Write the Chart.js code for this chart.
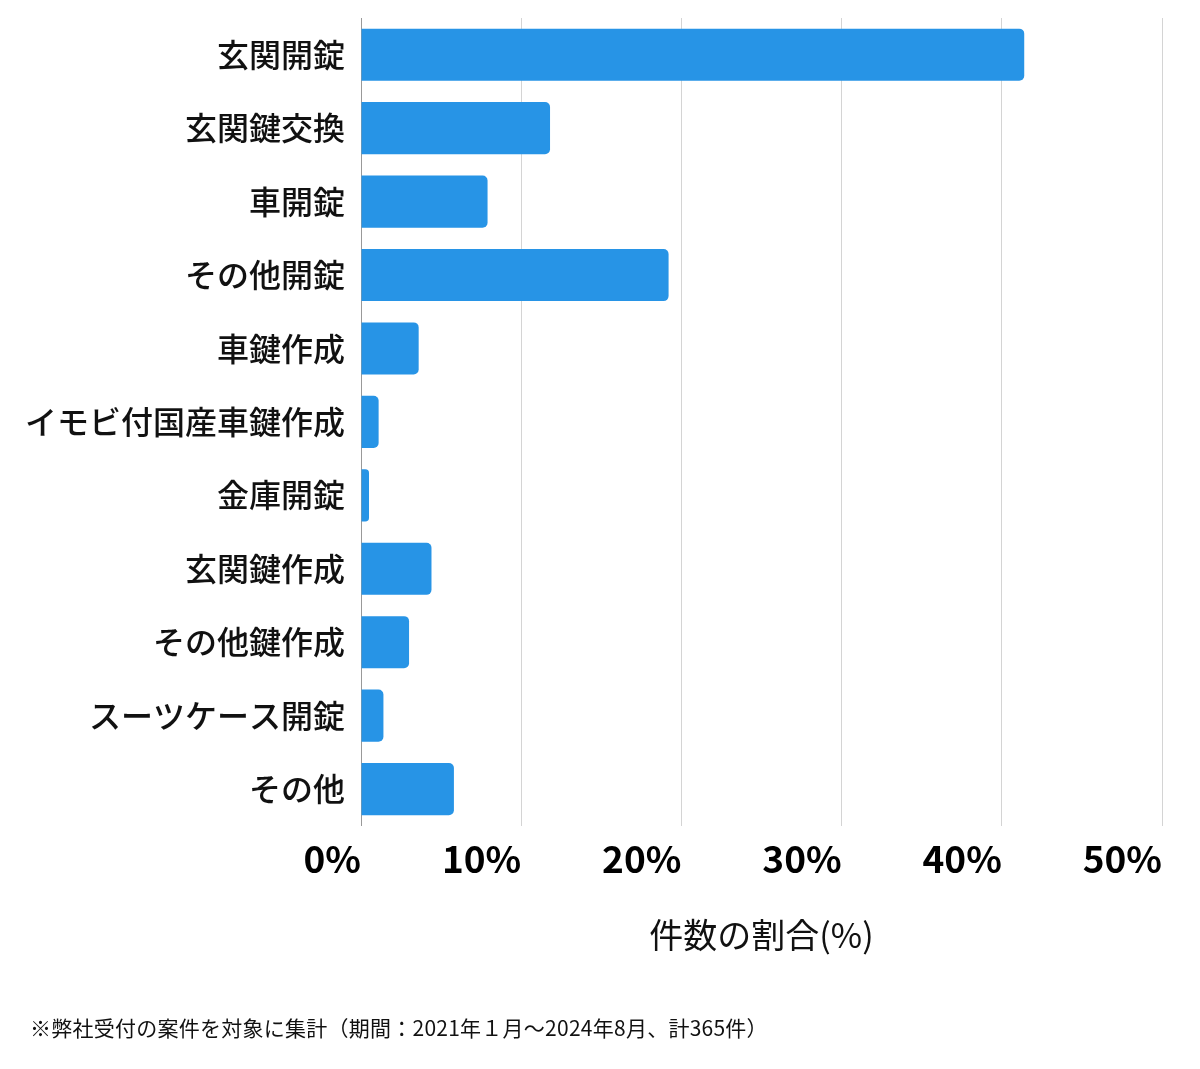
<!DOCTYPE html>
<html lang="ja">
<head>
<meta charset="utf-8">
<script src="https://cdn.jsdelivr.net/npm/chart.js@4"></script>
<style>
  html, body { margin: 0; padding: 0; background: #fff; }
  .wrap { position: relative; width: 1200px; height: 1069px; }
  .note {
    position: absolute; left: 30px; top: 1012px;
    font-family: "Noto Sans CJK JP", sans-serif; font-size: 21px; color: #111;
    letter-spacing: 0.25px; white-space: nowrap;
  }
</style>
</head>
<body>
<div class="wrap">
  <canvas id="chartBar" width="1200" height="1069"></canvas>
  <div class="note">※弊社受付の案件を対象に集計（期間：2021年１月〜2024年8月、計365件）</div>
</div>
<script>
const labels = ['玄関開錠', '玄関鍵交換', '車開錠', 'その他開錠', '車鍵作成', 'イモビ付国産車鍵作成',
  '金庫開錠', '玄関鍵作成', 'その他鍵作成', 'スーツケース開錠', 'その他']
// 件数の割合 (%)
const shares = [41.4, 11.8, 7.9, 19.2, 3.6, 1.1, 0.5, 4.4, 3.0, 1.4, 5.8]
const xTicks = [0, 10, 20, 30, 40, 50]

const font = '"Noto Sans CJK JP", "Noto Sans", sans-serif'

const ctx = document.getElementById('chartBar').getContext('2d')
new Chart(ctx, {
  type: 'bar',
  data: {
    labels: labels,
    datasets: [{
      label: '件数の割合',
      data: shares,
      backgroundColor: '#2794E6',
      borderRadius: 5,
      barPercentage: 0.71,
      categoryPercentage: 1
    }]
  },
  options: {
    indexAxis: 'y',
    responsive: false,
    animation: false,
    layout: {
      padding: { top: 18, right: 38, bottom: 114, left: 0 }
    },
    plugins: {
      legend: { display: false },
      tooltip: { enabled: false }
    },
    scales: {
      x: {
        min: 0,
        max: 50,
        afterBuildTicks: (scale) => {
          scale.ticks = xTicks.map(v => ({ value: v }))
        },
        grid: { color: '#d4d4d4', drawTicks: false },
        border: { display: false },
        ticks: {
          align: 'end',
          padding: 11,
          color: '#000',
          font: { family: font, size: 37, weight: 'bold' },
          callback: (v) => v + '%'
        },
        title: {
          display: true,
          text: '件数の割合(%)',
          color: '#111',
          padding: { top: 22, bottom: 0 },
          font: { family: font, size: 34 }
        }
      },
      y: {
        afterFit: (scale) => {
          scale.width = 361
          // labels sit inside the category bands, no extra room needed
          scale.paddingTop = 0
          scale.paddingBottom = 0
        },
        grid: { display: false, drawTicks: false },
        border: { display: true, color: '#999', width: 1 },
        ticks: {
          padding: 16,
          color: '#111',
          font: { family: font, size: 32, weight: 500 }
        }
      }
    }
  }
})
</script>
</body>
</html>
